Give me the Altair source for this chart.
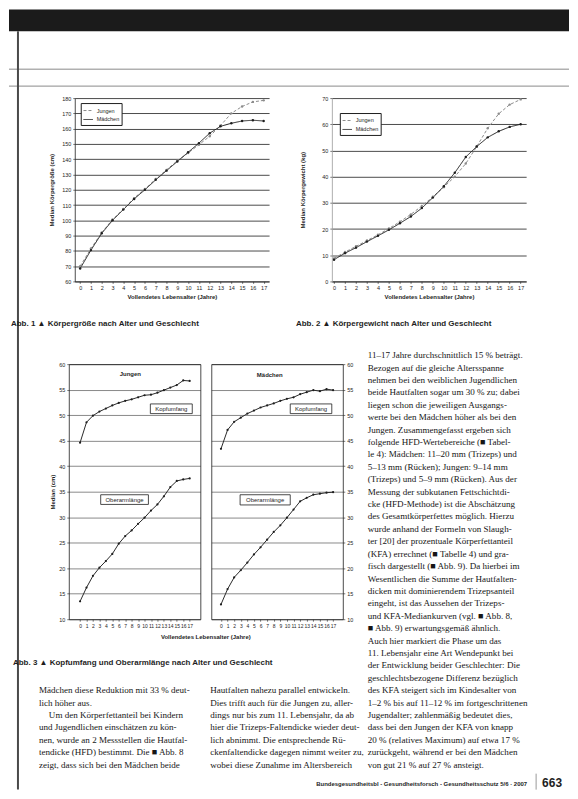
import altair as alt
import pandas as pd

# ---------------- data (read from the scanned page) ----------------
ages = list(range(18))
sexes = ["Jungen", "Mädchen"]

groesse_jungen = [70.0, 81.5, 92.0, 100.5, 107.5, 114.5, 120.5, 127.0, 133.0, 139.0,
                  144.0, 149.5, 155.0, 162.0, 170.0, 174.5, 177.5, 178.5]
groesse_maedchen = [68.5, 80.5, 91.5, 100.0, 107.0, 114.0, 120.0, 126.5, 132.5, 138.5,
                    144.5, 150.5, 157.0, 161.5, 163.5, 165.0, 165.5, 165.0]

gewicht_jungen = [8.8, 11.2, 13.4, 15.6, 17.8, 20.2, 22.8, 25.6, 28.8, 32.3,
                  36.0, 40.0, 45.0, 51.5, 58.5, 64.0, 67.5, 69.5]
gewicht_maedchen = [8.3, 10.8, 12.9, 15.2, 17.4, 19.7, 22.2, 24.8, 28.0, 32.0,
                    36.3, 41.5, 47.5, 51.5, 55.0, 57.3, 59.0, 60.0]

kopf_jungen = [44.6, 48.6, 49.9, 50.7, 51.3, 51.9, 52.4, 52.8, 53.1, 53.5,
               53.9, 54.0, 54.4, 54.9, 55.4, 55.9, 56.8, 56.7]
kopf_maedchen = [43.4, 47.1, 48.7, 49.5, 50.3, 50.9, 51.5, 51.9, 52.3, 52.8,
                 53.2, 53.5, 54.1, 54.5, 54.9, 54.7, 55.1, 54.9]
oberarm_jungen = [13.5, 16.2, 18.5, 20.1, 21.4, 22.8, 24.8, 26.3, 27.4, 28.7,
                  29.9, 31.3, 32.5, 34.1, 35.9, 37.1, 37.4, 37.6]
oberarm_maedchen = [12.9, 15.9, 18.2, 19.6, 21.1, 22.7, 24.1, 25.6, 27.1, 28.4,
                    29.9, 31.5, 33.1, 33.8, 34.4, 34.6, 34.8, 34.9]

ticks_groesse = list(range(60, 181, 10))
ticks_gewicht = list(range(0, 71, 10))
ticks_abb3 = list(range(10, 61, 5))

caption_1 = "Abb. 1 ▲ Körpergröße nach Alter und Geschlecht"
caption_2 = "Abb. 2 ▲ Körpergewicht nach Alter und Geschlecht"
caption_3 = "Abb. 3 ▲ Kopfumfang und Oberarmlänge nach Alter und Geschlecht"
x_title = "Vollendetes Lebensalter (Jahre)"
footer_text = "Bundesgesundheitsbl - Gesundheitsforsch - Gesundheitsschutz 5/6 · 2007"
page_number = "663"

text_links = [
    "Mädchen diese Reduktion mit 33 % deut-",
    "lich höher aus.",
    "Um den Körperfettanteil bei Kindern",
    "und Jugendlichen einschätzen zu kön-",
    "nen, wurde an 2 Messstellen die Hautfal-",
    "tendicke (HFD) bestimmt. Die ■ Abb. 8",
    "zeigt, dass sich bei den Mädchen beide",
]
einzug_links = [False, False, True, False, False, False, False]
text_mitte = [
    "Hautfalten nahezu parallel entwickeln.",
    "Dies trifft auch für die Jungen zu, aller-",
    "dings nur bis zum 11. Lebensjahr, da ab",
    "hier die Trizeps-Faltendicke wieder deut-",
    "lich abnimmt. Die entsprechende Rü-",
    "ckenfaltendicke dagegen nimmt weiter zu,",
    "wobei diese Zunahme im Altersbereich",
]
text_rechts = [
    "11–17 Jahre durchschnittlich 15 % beträgt.",
    "Bezogen auf die gleiche Altersspanne",
    "nehmen bei den weiblichen Jugendlichen",
    "beide Hautfalten sogar um 30 % zu; dabei",
    "liegen schon die jeweiligen Ausgangs-",
    "werte bei den Mädchen höher als bei den",
    "Jungen. Zusammengefasst ergeben sich",
    "folgende HFD-Wertebereiche (■ Tabel-",
    "le 4): Mädchen: 11–20 mm (Trizeps) und",
    "5–13 mm (Rücken); Jungen: 9–14 mm",
    "(Trizeps) und 5–9 mm (Rücken). Aus der",
    "Messung der subkutanen Fettschichtdi-",
    "cke (HFD-Methode) ist die Abschätzung",
    "des Gesamtkörperfettes möglich. Hierzu",
    "wurde anhand der Formeln von Slaugh-",
    "ter [20] der prozentuale Körperfettanteil",
    "(KFA) errechnet (■ Tabelle 4) und gra-",
    "fisch dargestellt (■ Abb. 9). Da hierbei im",
    "Wesentlichen die Summe der Hautfalten-",
    "dicken mit dominierendem Trizepsanteil",
    "eingeht, ist das Aussehen der Trizeps-",
    "und KFA-Mediankurven (vgl. ■ Abb. 8,",
    "■ Abb. 9) erwartungsgemäß ähnlich.",
    "Auch hier markiert die Phase um das",
    "11. Lebensjahr eine Art Wendepunkt bei",
    "der Entwicklung beider Geschlechter: Die",
    "geschlechtsbezogene Differenz bezüglich",
    "des KFA steigert sich im Kindesalter von",
    "1–2 % bis auf 11–12 % im fortgeschrittenen",
    "Jugendalter; zahlenmäßig bedeutet dies,",
    "dass bei den Jungen der KFA von knapp",
    "20 % (relatives Maximum) auf etwa 17 %",
    "zurückgeht, während er bei den Mädchen",
    "von gut 21 % auf 27 % ansteigt.",
]

# ---------------- styling ----------------
W, H = 562, 783
INK = "#1e1e1e"
SANS = "Liberation Sans Narrow, Liberation Sans, Arial, sans-serif"
SERIF = "Liberation Serif, DejaVu Serif, serif"


def sc(domain, rng):
    return alt.Scale(domain=domain, range=rng, nice=False, zero=False)


def ax(orient, offset, values=None, title=None, grid=False, labels=True, ticks=True,
       domain=True, gridColor=INK, gridWidth=0.8, domainColor=INK, **kw):
    d = dict(orient=orient, offset=offset, grid=grid, labels=labels, ticks=ticks,
             domain=domain, labelFont=SANS, labelFontSize=5.5, labelColor=INK,
             tickColor=INK, tickSize=2, tickWidth=0.6, domainColor=domainColor,
             domainWidth=0.8, gridColor=gridColor, gridWidth=gridWidth,
             labelPadding=2, labelOverlap=False, labelFlush=False,
             titleFont=SANS, titleFontSize=6, titleFontWeight="bold",
             titleColor=INK, title=title)
    if values is not None:
        d["values"] = values
    d.update(kw)
    return alt.Axis(**d)


def legend(x, y):
    return alt.Legend(orient="none", legendX=x, legendY=y, title=None,
                      strokeColor=INK, fillColor="white", padding=2,
                      labelFont=SANS, labelFontSize=5.5, labelColor=INK,
                      symbolType="stroke", symbolSize=90, symbolStrokeWidth=1,
                      rowPadding=0, labelOffset=3)


# ---------------- Abb. 1 / Abb. 2 ----------------
def growth_panel(vals_j, vals_m, xdom, xr, ydom, yr, yticks, ytitle, leg_xy,
                 title_pad, ydomain_color):
    df = pd.DataFrame({
        "Alter": ages * 2,
        "Wert": vals_j + vals_m,
        "Geschlecht": ["Jungen"] * 18 + ["Mädchen"] * 18,
    })
    lg = legend(*leg_xy)
    return alt.Chart(df).mark_line(
        strokeWidth=1, point=alt.OverlayMarkDef(size=6, filled=True)
    ).encode(
        x=alt.X("Alter:Q", scale=sc(xdom, xr),
                axis=ax("bottom", yr[0] - H, values=ages, title=x_title,
                        titlePadding=3)),
        y=alt.Y("Wert:Q", scale=sc(ydom, yr),
                axis=ax("left", -xr[0], values=yticks, title=ytitle, grid=True,
                        titlePadding=title_pad, domainColor=ydomain_color)),
        color=alt.Color("Geschlecht:N",
                        scale=alt.Scale(domain=sexes, range=["#8c8c8c", INK]),
                        legend=lg),
        strokeDash=alt.StrokeDash("Geschlecht:N",
                                  scale=alt.Scale(domain=sexes, range=[[3, 2], [1, 0]]),
                                  legend=lg),
    )


abb1 = growth_panel(groesse_jungen, groesse_maedchen, [-0.5, 17.5], [66, 261],
                    [60, 180], [273, 89], ticks_groesse, "Median Körpergröße (cm)",
                    (72, 94), 7, INK)
abb2 = growth_panel(gewicht_jungen, gewicht_maedchen, [-0.2, 17.5], [324, 519],
                    [0, 70], [273, 89], ticks_gewicht, "Median Körpergewicht (kg)",
                    (332, 104), 16, "#999999")

# ---------------- Abb. 3 ----------------
Y3 = [612, 356]
XL_dom, XL_r = [-1.75, 18.65], [60, 192]
XR_dom, XR_r = [-1.47, 18.47], [203, 335]


def abb3_df(kopf, oberarm):
    return pd.DataFrame({
        "Alter": ages * 2,
        "Wert": kopf + oberarm,
        "Maß": ["Kopfumfang"] * 18 + ["Oberarmlänge"] * 18,
    })


def abb3_lines(df, xdom, xr, xaxis, yaxis):
    return alt.Chart(df).mark_line(
        strokeWidth=1, color="#2a2a2a",
        point=alt.OverlayMarkDef(size=5, filled=True, color=INK)
    ).encode(
        x=alt.X("Alter:Q", scale=sc(xdom, xr), axis=xaxis),
        y=alt.Y("Wert:Q", scale=sc([10, 60], Y3), axis=yaxis),
        detail="Maß:N",
    )


abb3L = abb3_lines(
    abb3_df(kopf_jungen, oberarm_jungen), XL_dom, XL_r,
    ax("bottom", Y3[0] - H, values=ages, title=x_title, labelFontSize=5,
       titleX=197, titleY=14, titleBaseline="top", titleAngle=0),
    ax("left", -XL_r[0], values=ticks_abb3, title="Median (cm)", grid=True,
       gridColor="#3a3a3a", gridWidth=0.6, titlePadding=3),
)
abb3R = abb3_lines(
    abb3_df(kopf_maedchen, oberarm_maedchen), XR_dom, XR_r,
    ax("bottom", Y3[0] - H, values=ages, labelFontSize=5),
    ax("right", XR_r[1] - W, values=ticks_abb3, grid=False),
)

# panel labels and boxed series labels (in data units of each panel)
panel_label_L = pd.DataFrame({"Alter": [7.8], "Wert": [58.0], "Text": ["Jungen"]})
panel_label_R = pd.DataFrame({"Alter": [7.4], "Wert": [57.8], "Text": ["Mädchen"]})
boxes_L = pd.DataFrame({"Text": ["Kopfumfang", "Oberarmlänge"],
                        "x0": [10.9, 3.2], "x1": [17.4, 10.6],
                        "y0": [50.3, 32.5], "y1": [52.2, 34.4]})
boxes_R = pd.DataFrame({"Text": ["Kopfumfang", "Oberarmlänge"],
                        "x0": [10.5, 2.9], "x1": [16.8, 10.5],
                        "y0": [50.3, 32.4], "y1": [52.2, 34.4]})


def panel_label(df, xdom, xr, xaxis, yaxis):
    return alt.Chart(df).mark_text(font=SANS, fontSize=6, fontWeight="bold",
                                   color=INK).encode(
        x=alt.X("Alter:Q", scale=sc(xdom, xr), axis=xaxis),
        y=alt.Y("Wert:Q", scale=sc([10, 60], Y3), axis=yaxis),
        text="Text:N",
    )


def boxes(df, xdom, xr):
    rect = alt.Chart(df).mark_rect(fill="white", stroke=INK, strokeWidth=0.8).encode(
        x=alt.X("x0:Q", scale=sc(xdom, xr), axis=None),
        x2="x1:Q",
        y=alt.Y("y0:Q", scale=sc([10, 60], Y3), axis=None),
        y2="y1:Q",
    )
    txt = alt.Chart(df).transform_calculate(
        xm="(datum.x0 + datum.x1) / 2", ym="(datum.y0 + datum.y1) / 2"
    ).mark_text(font=SANS, fontSize=6, color=INK).encode(
        x=alt.X("xm:Q", scale=sc(xdom, xr), axis=None),
        y=alt.Y("ym:Q", scale=sc([10, 60], Y3), axis=None),
        text="Text:N",
    )
    return [rect, txt]


frame_top = ax("top", -Y3[1], labels=False, ticks=False)
labL = panel_label(panel_label_L, XL_dom, XL_r, frame_top,
                   ax("right", XL_r[1] - W, labels=False, ticks=False))
labR = panel_label(panel_label_R, XR_dom, XR_r, frame_top,
                   ax("left", -XR_r[0], values=ticks_abb3, labels=False, ticks=False,
                      grid=True, gridColor="#3a3a3a", gridWidth=0.6))

# ---------------- body text ----------------
rows = []
for i, t in enumerate(text_rechts):
    rows.append({"Spalte": 2, "Zeile": i, "Text": t, "Einzug": False})
for i, t in enumerate(text_links):
    rows.append({"Spalte": 0, "Zeile": 27 + i, "Text": t, "Einzug": einzug_links[i]})
for i, t in enumerate(text_mitte):
    rows.append({"Spalte": 1, "Zeile": 27 + i, "Text": t, "Einzug": False})
body_df = pd.DataFrame(rows)


def body_layer(indent, dx):
    return alt.Chart(body_df).transform_filter(
        alt.datum.Einzug == indent
    ).mark_text(
        align="left", baseline="middle", font=SERIF, fontSize=9.1, color="#161616",
        dx=dx
    ).encode(
        x=alt.X("Spalte:Q", scale=sc([0, 1, 2], [30, 202, 360]), axis=None),
        y=alt.Y("Zeile:Q", scale=sc([0, 33], [347, 758]), axis=None),
        text="Text:N",
    )


body = body_layer(False, 0)
body_indent = body_layer(True, 10)


def label(text, x, y, size=8, weight="bold", align="left", color=INK, font=SANS):
    return alt.Chart(pd.DataFrame({"t": [text]})).mark_text(
        align=align, baseline="middle", font=font, fontSize=size,
        fontWeight=weight, color=color
    ).encode(x=alt.value(x), y=alt.value(y), text="t:N")


captions = [
    label(caption_1, 2, 316),
    label(caption_2, 288, 316),
    label(caption_3, 4, 656),
    label(footer_text, 520, 777, size=6, align="right"),
    label(page_number, 535, 776, size=12),
]

# ---------------- page decoration (scan edges) ----------------
deco_df = pd.DataFrame({"k": [0]})
band = alt.Chart(deco_df).mark_rect(color="#1b1b1b").encode(
    x=alt.value(0), x2=alt.value(W), y=alt.value(0), y2=alt.value(22))
hline1 = alt.Chart(deco_df).mark_rule(color="#8a8a8a", strokeWidth=1).encode(
    x=alt.value(0), x2=alt.value(W), y=alt.value(60))
hline2 = alt.Chart(deco_df).mark_rule(color="#8a8a8a", strokeWidth=1).encode(
    x=alt.value(0), x2=alt.value(W), y=alt.value(77))
gutter = alt.Chart(deco_df).mark_rule(color="#4a4a4a", strokeWidth=2).encode(
    x=alt.value(9), y=alt.value(22), y2=alt.value(H))
pagebar = alt.Chart(deco_df).mark_rule(color="#9a9a9a", strokeWidth=1).encode(
    x=alt.value(529), y=alt.value(767), y2=alt.value(H))

layers = ([band, hline1, hline2, gutter, pagebar, abb1, abb2,
           labL, labR] + boxes(boxes_L, XL_dom, XL_r) + boxes(boxes_R, XR_dom, XR_r)
          + [abb3L, abb3R, body, body_indent] + captions)

chart = alt.layer(*layers).resolve_scale(
    x="independent", y="independent", color="independent", strokeDash="independent"
).resolve_axis(
    x="independent", y="independent"
).resolve_legend(
    color="independent", strokeDash="independent"
).properties(
    width=W, height=H, padding=0, background="white"
).configure_view(stroke=None)

chart.save("out.html", embed_options={"renderer": "svg", "actions": False})
